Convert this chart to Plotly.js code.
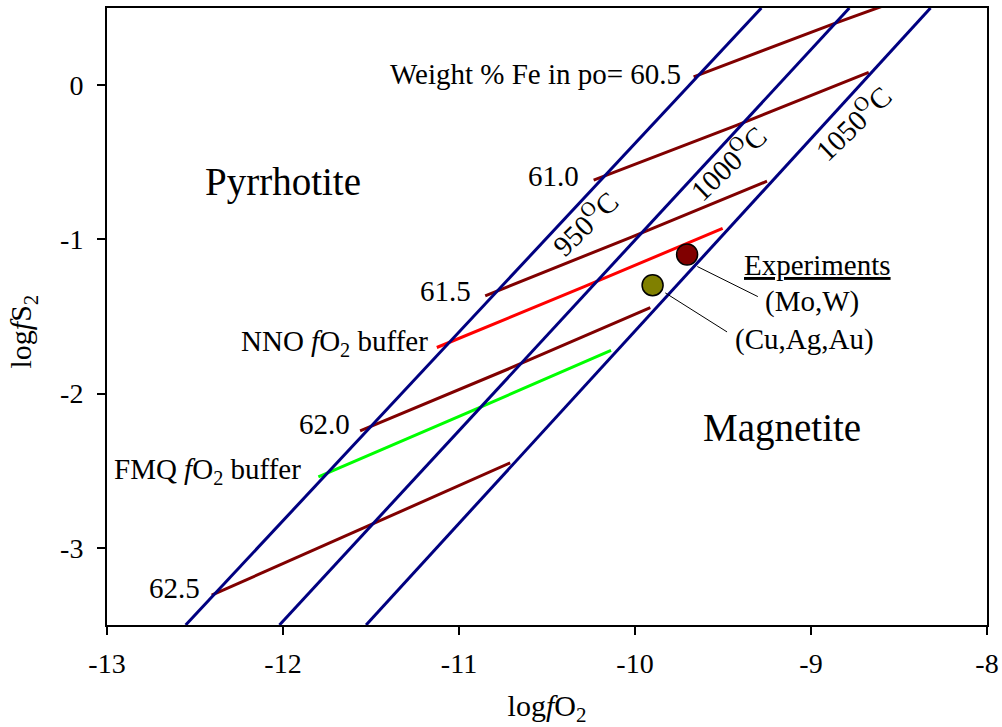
<!DOCTYPE html>
<html>
<head>
<meta charset="utf-8">
<script src="https://cdn.plot.ly/plotly-3.0.1.min.js"></script>
<style>
  html, body { margin: 0; padding: 0; background: #fff; }
  #chart { width: 1002px; height: 727px; }
</style>
</head>
<body>
<div id="chart"></div>
<script>
// Axis ticks
const xTickVals = [-13, -12, -11, -10, -9, -8];
const xTickText = ['-13', '-12', '-11', '-10', '-9', '-8'];
const yTickVals = [0, -1, -2, -3];
const yTickText = ['0', '-1', '-2', '-3'];

// Isotherms (log fO2, log fS2) of the pyrrhotite–magnetite boundary
const isothermLabels = ['950<sup>O</sup>C', '1000<sup>O</sup>C', '1050<sup>O</sup>C'];
const iso950X = [-12.553, -9.282];
const iso950Y = [-3.5, 0.5];
const iso1000X = [-12.020, -8.782];
const iso1000Y = [-3.5, 0.5];
const iso1050X = [-11.528, -8.321];
const iso1050Y = [-3.5, 0.5];

// Pyrrhotite composition isopleths (weight % Fe in po)
const fe605X = [-9.667, -8.865, -8.172];
const fe605Y = [0.054, 0.400, 0.686];
const fe610X = [-10.235, -9.420, -8.672];
const fe610Y = [-0.616, -0.259, 0.082];
const fe615X = [-10.851, -10.027, -9.250];
const fe615Y = [-1.366, -0.988, -0.623];
const fe620X = [-11.562, -10.713, -9.913];
const fe620Y = [-2.242, -1.837, -1.442];
const fe625X = [-12.405, -11.529, -10.709];
const fe625Y = [-3.307, -2.864, -2.449];
const feLabels = ['Weight % Fe in po= 60.5', '61.0', '61.5', '62.0', '62.5'];

// Oxygen buffers
const nnoX = [-11.126, -10.292, -9.502];
const nnoY = [-1.701, -1.308, -0.929];
const fmqX = [-11.799, -10.940, -10.136];
const fmqY = [-2.540, -2.119, -1.719];
const bufferLabels = ['NNO <i>f</i>O<sub>2</sub> buffer', 'FMQ <i>f</i>O<sub>2</sub> buffer'];

// Experimental conditions
const expX = [-9.704, -9.900];
const expY = [-1.098, -1.297];
const expColors = ['#800000', '#808000'];
const expLabels = ['(Mo,W)', '(Cu,Ag,Au)'];

const FONT = '"Liberation Serif", "Times New Roman", Times, serif';
const NAVY = '#000080';
const MAROON = '#800000';

function line(x, y, color) {
  return { x: x, y: y, mode: 'lines', type: 'scatter', hoverinfo: 'skip',
           showlegend: false, line: { color: color, width: 3 } };
}

const traces = [
  line(fe605X, fe605Y, MAROON),
  line(fe610X, fe610Y, MAROON),
  line(fe615X, fe615Y, MAROON),
  line(fe620X, fe620Y, MAROON),
  line(fe625X, fe625Y, MAROON),
  line(nnoX, nnoY, '#ff0000'),
  line(fmqX, fmqY, '#00ff00'),
  line(iso950X, iso950Y, NAVY),
  line(iso1000X, iso1000Y, NAVY),
  line(iso1050X, iso1050Y, NAVY),
  { x: expX, y: expY, mode: 'markers', type: 'scatter', hoverinfo: 'skip', showlegend: false,
    marker: { size: 21, color: expColors, line: { color: '#000', width: 1.5 } } }
];

function note(text, x, y, opts) {
  return Object.assign({ text: text, x: x, y: y, xref: 'x', yref: 'y', showarrow: false,
    xanchor: 'right', yanchor: 'middle', font: { family: FONT, size: 29, color: '#000' } }, opts || {});
}

const annotations = [
  note(feLabels[0], -9.727, 0.071),
  note(feLabels[1], -10.307, -0.590),
  note(feLabels[2], -10.921, -1.336),
  note(feLabels[3], -11.609, -2.198),
  note(feLabels[4], -12.458, -3.262),
  note(bufferLabels[0], -11.164, -1.673),
  note(bufferLabels[1], -11.884, -2.503),
  note(isothermLabels[0], -10.288, -0.886, { xanchor: 'center', textangle: -44 }),
  note(isothermLabels[1], -9.477, -0.497, { xanchor: 'center', textangle: -44 }),
  note(isothermLabels[2], -8.766, -0.238, { xanchor: 'center', textangle: -44 }),
  note('Pyrrhotite', -12.002, -0.626, { xanchor: 'center', font: { family: FONT, size: 39, color: '#000' } }),
  note('Magnetite', -9.164, -2.224, { xanchor: 'center', font: { family: FONT, size: 39, color: '#000' } }),
  note('<u>Experiments</u>', -8.965, -1.167, { xanchor: 'center' }),
  note(expLabels[0], -8.992, -1.405, { xanchor: 'center' }),
  note(expLabels[1], -9.039, -1.649, { xanchor: 'center' }),
  // y-axis title
  note('log<i>f</i>S<sub>2</sub>', 0.0, -1.595, { xref: 'paper', x: -0.095, xanchor: 'center',
    textangle: -90, font: { family: FONT, size: 30, color: '#000' } })
];

const shapes = [
  { type: 'line', xref: 'x', yref: 'y', x0: -9.646, y0: -1.176, x1: -9.302, y1: -1.371,
    line: { color: '#000', width: 1 } },
  { type: 'line', xref: 'x', yref: 'y', x0: -9.828, y0: -1.347, x1: -9.477, y1: -1.600,
    line: { color: '#000', width: 1 } }
];

const axisCommon = {
  showgrid: false, zeroline: false, showline: true, mirror: true,
  linecolor: '#000', linewidth: 2, ticks: 'outside', ticklen: 8, tickwidth: 2, tickcolor: '#000',
  tickfont: { family: FONT, size: 28, color: '#000' }
};

const layout = {
  width: 1002, height: 727,
  margin: { l: 107, r: 15, t: 8, b: 102 },
  paper_bgcolor: '#fff', plot_bgcolor: '#fff',
  font: { family: FONT, color: '#000' },
  xaxis: Object.assign({}, axisCommon, {
    range: [-13, -8], tickvals: xTickVals, ticktext: xTickText, ticklabelstandoff: 4,
    title: { text: 'log<i>f</i>O<sub>2</sub>', font: { family: FONT, size: 30, color: '#000' }, standoff: 20 }
  }),
  yaxis: Object.assign({}, axisCommon, {
    range: [-3.5, 0.5], tickvals: yTickVals, ticktext: yTickText, ticklabelstandoff: 8
  }),
  annotations: annotations,
  shapes: shapes
};

Plotly.newPlot('chart', traces, layout, { staticPlot: true, displayModeBar: false });
</script>
</body>
</html>
